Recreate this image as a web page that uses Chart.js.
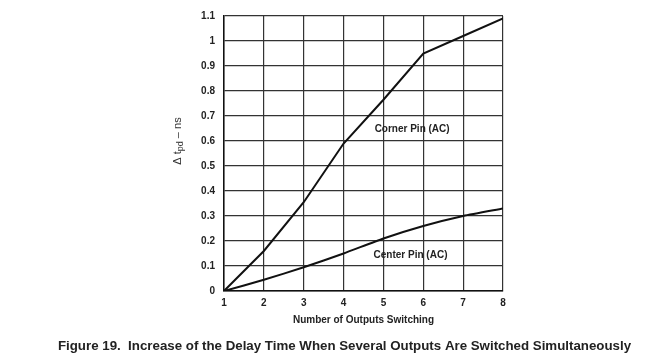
<!DOCTYPE html>
<html><head><meta charset="utf-8">
<script src="https://cdn.jsdelivr.net/npm/chart.js@4.4.1/dist/chart.umd.min.js"></script>
<style>html,body{margin:0;padding:0;background:#fff}#c{display:block}</style>
</head><body>
<canvas id="c" width="658" height="362"></canvas>
<script>
const outputs = [1, 2, 3, 4, 5, 6, 7, 8];
const cornerPin = [0, 0.16, 0.355, 0.59, 0.765, 0.95, 1.02, 1.09];
const centerPin = [0, 0.045, 0.095, 0.15, 0.21, 0.26, 0.30, 0.33];
const yTicks = [0, 0.1, 0.2, 0.3, 0.4, 0.5, 0.6, 0.7, 0.8, 0.9, 1, 1.1];
const yTickLabels = ['0', '0.1', '0.2', '0.3', '0.4', '0.5', '0.6', '0.7', '0.8', '0.9', '1', '1.1'];
const xTicks = [1, 2, 3, 4, 5, 6, 7, 8];
const seriesNames = ['Corner Pin (AC)', 'Center Pin (AC)'];
const labelAt = [[5.72, 0.648], [5.68, 0.145]];
const FONT = '"Liberation Sans", Arial, sans-serif';
const TXT = '#222';

const textPlugin = {
  id: 'texts',
  afterDraw(chart) {
    const ctx = chart.ctx, x = chart.scales.x, y = chart.scales.y, a = chart.chartArea;
    ctx.save();
    ctx.fillStyle = TXT;
    ctx.textAlign = 'center';
    ctx.textBaseline = 'middle';
    ctx.font = 'bold 10px ' + FONT;
    seriesNames.forEach((n, i) => {
      ctx.fillText(n, x.getPixelForValue(labelAt[i][0]), y.getPixelForValue(labelAt[i][1]));
    });
    ctx.fillText('Number of Outputs Switching', (a.left + a.right) / 2, 320);
    ctx.font = 'bold 13.3px ' + FONT;
    ctx.fillText('Figure 19.  Increase of the Delay Time When Several Outputs Are Switched Simultaneously', 344.5, 346);
    // y title with subscript
    ctx.translate(178, 141);
    ctx.rotate(-Math.PI / 2);
    ctx.textAlign = 'left';
    ctx.fillStyle = '#333';
    const f1 = '11px "Liberation Sans", sans-serif', f2 = '9px "Liberation Sans", sans-serif';
    const parts = [['\u0394 t', f1, 0], ['pd', f2, 3], [' \u2013 ns', f1, 0]];
    let total = 0;
    parts.forEach(p => { ctx.font = p[1]; total += ctx.measureText(p[0]).width; });
    let cx = -total / 2;
    parts.forEach(p => { ctx.font = p[1]; ctx.fillText(p[0], cx, p[2]); cx += ctx.measureText(p[0]).width; });
    ctx.restore();
  }
};

new Chart(document.getElementById('c'), {
  type: 'line',
  data: {
    datasets: [
      { label: seriesNames[0], data: outputs.map((v, i) => ({ x: v, y: cornerPin[i] })), borderColor: '#111', borderWidth: 2, pointRadius: 0, tension: 0, fill: false },
      { label: seriesNames[1], data: outputs.map((v, i) => ({ x: v, y: centerPin[i] })), borderColor: '#111', borderWidth: 2, pointRadius: 0, tension: 0.2, fill: false }
    ]
  },
  options: {
    responsive: false,
    animation: false,
    layout: { padding: { left: 0, right: 155, top: 16, bottom: 0 } },
    plugins: { legend: { display: false }, tooltip: { enabled: false } },
    scales: {
      x: {
        type: 'linear', min: 1, max: 8,
        afterBuildTicks: ax => { ax.ticks = xTicks.map(v => ({ value: v })); },
        afterFit: s => { s.height = 71; },
        grid: { color: '#333', lineWidth: 1.2, drawTicks: false },
        border: { color: '#111', width: 1.5 },
        ticks: { padding: 6, color: TXT, font: { family: FONT, size: 10, weight: 'bold' } }
      },
      y: {
        type: 'linear', min: 0, max: 1.1,
        afterBuildTicks: ax => { ax.ticks = yTicks.map(v => ({ value: v })); },
        afterFit: s => { s.width = 224; },
        grid: { color: '#333', lineWidth: 1.2, drawTicks: false },
        border: { color: '#111', width: 1.5 },
        ticks: {
          padding: 9, color: TXT, font: { family: FONT, size: 10, weight: 'bold' },
          callback: (v, i) => yTickLabels[i]
        }
      }
    }
  },
  plugins: [textPlugin]
});
</script>
</body></html>
